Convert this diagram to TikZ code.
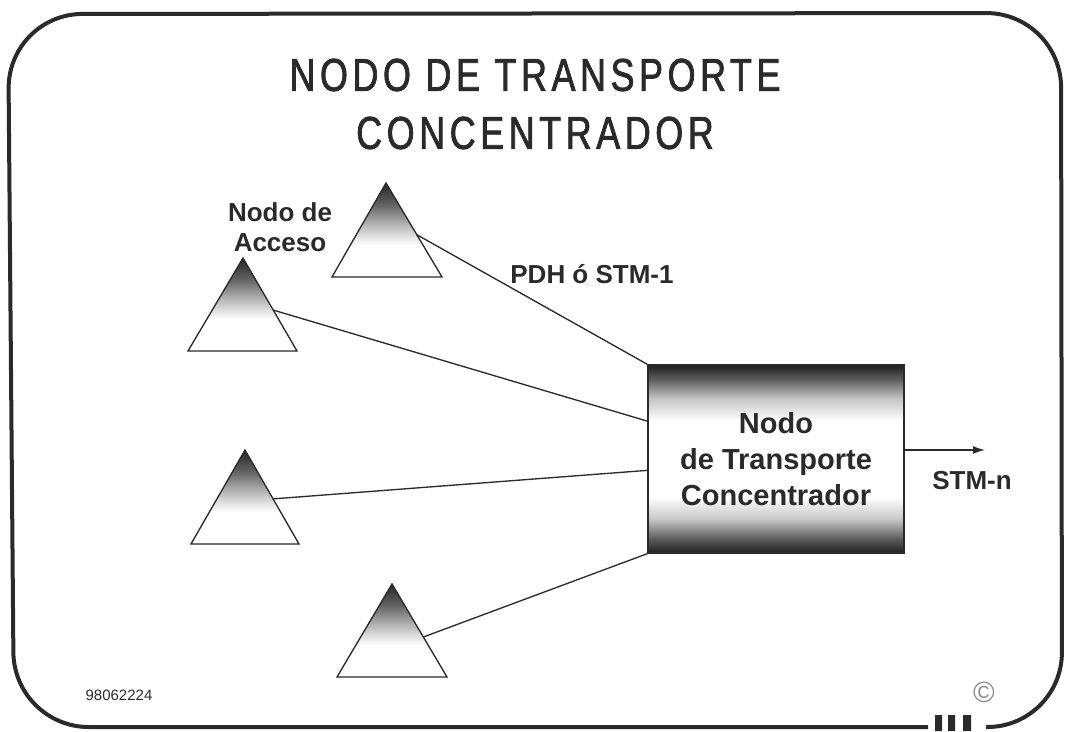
\documentclass[tikz,border=0pt]{standalone}
\usepackage{fontspec}
\setmainfont{Liberation Sans}
\newfontfamily\titlefont[FakeStretch=0.78,LetterSpace=10,FakeBold=1.6]{Liberation Sans}
\usetikzlibrary{calc,arrows.meta}
\definecolor{ink}{HTML}{2A2A2A}
\pgfdeclareverticalshading{trishade}{100bp}{color(0bp)=(white); color(42bp)=(white); color(48bp)=(black!15); color(55bp)=(black!35); color(63bp)=(black!60); color(75bp)=(black!85); color(100bp)=(black!85)}
\pgfdeclareverticalshading{boxshade}{100bp}{color(0bp)=(black!88); color(25bp)=(black!88); color(29bp)=(black!62); color(34bp)=(black!22); color(40bp)=(white); color(60bp)=(white); color(66bp)=(black!22); color(71bp)=(black!62); color(75bp)=(black!88); color(100bp)=(black!88)}
\tikzset{
  frame/.style={draw=ink, line width=3pt, rounded corners=56pt},
  tri/.style={draw=ink, line width=1pt, shade, shading=trishade},
  link/.style={draw=ink, line width=1pt},
  lbl/.style={font=\bfseries\fontsize{19.5pt}{22.5pt}\selectfont, text=ink, inner sep=0pt},
}
\begin{document}
\begin{tikzpicture}[x=0.75pt,y=-0.75pt]
\useasboundingbox (0,0) rectangle (1066,731);
% frame
\draw[frame] (928,727) -- (14,727) -- (8,14) -- (1061,13) -- (1062,727) -- (986,727);
\fill[ink] (935,715) rectangle (942,731) (948,715) rectangle (955,731) (963,715) rectangle (971,731);
\node[text=black!45, font=\fontsize{22pt}{24pt}\selectfont, inner sep=0pt] (copy) at (984,692) {©};
\node[text=ink, font=\fontsize{11.25pt}{13pt}\selectfont, inner sep=0pt, anchor=base] (code) at (119,700) {98062224};
% title
\node[text=ink, font=\titlefont\fontsize{34.5pt}{43.5pt}\selectfont, align=center, inner sep=0pt] (title) at (535,104) {NODO DE TRANSPORTE\\CONCENTRADOR};
% triangles
\coordinate (t1a) at (386,183); \coordinate (t1l) at (332,277); \coordinate (t1r) at (442,277);
\coordinate (t2a) at (243,258); \coordinate (t2l) at (188,351); \coordinate (t2r) at (297,351);
\coordinate (t3a) at (245,450); \coordinate (t3l) at (191,544); \coordinate (t3r) at (299,544);
\coordinate (t4a) at (392,584); \coordinate (t4l) at (337,677); \coordinate (t4r) at (447,677);
\path[tri] (t1a) -- (t1r) -- (t1l) -- cycle;
\path[tri] (t2a) -- (t2r) -- (t2l) -- cycle;
\path[tri] (t3a) -- (t3r) -- (t3l) -- cycle;
\path[tri] (t4a) -- (t4r) -- (t4l) -- cycle;
\coordinate (t1c) at ($(t1a)!0.55!(t1r)$);
\coordinate (t2c) at ($(t2a)!0.56!(t2r)$);
\coordinate (t3c) at ($(t3a)!0.52!(t3r)$);
\coordinate (t4c) at ($(t4a)!0.57!(t4r)$);
% box
\node[draw=ink, line width=1pt, shade, shading=boxshade, minimum width=192pt, minimum height=141pt, inner sep=0pt,
      font=\bfseries\fontsize{21.75pt}{27pt}\selectfont, text=ink, align=center] (box) at (776,459) {Nodo\\de Transporte\\Concentrador};
% links
\draw[link] (t1c) -- (box.north west);
\draw[link] (t2c) -- ($(box.north west)!0.3!(box.south west)$);
\draw[link] (t3c) -- ($(box.north west)!0.56!(box.south west)$);
\draw[link] (t4c) -- (box.south west);
\coordinate (out) at (985,450);
\draw[link, -{Latex[length=9pt,width=6pt]}] (box.east |- out) -- (out);
% labels
\node[lbl, align=center] (acc) at (280,227) {Nodo de\\Acceso};
\node[lbl, anchor=base] (pdh) at (592,283) {PDH ó STM-1};
\node[lbl, anchor=base] (stm) at (972,489) {STM-n};
\end{tikzpicture}
\end{document}
